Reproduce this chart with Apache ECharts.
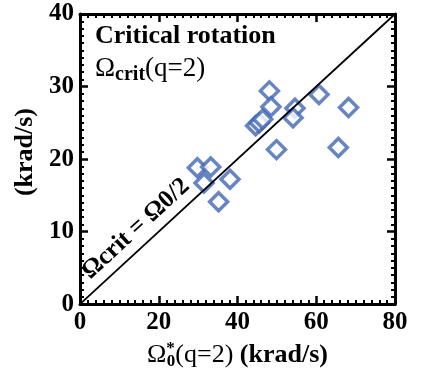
<!DOCTYPE html>
<html>
<head>
<meta charset="utf-8">
<script src="https://cdn.jsdelivr.net/npm/echarts@6/dist/echarts.min.js"></script>
<style>
  html, body { margin: 0; padding: 0; background: #fff; }
  #chart { width: 431px; height: 375px; }
</style>
</head>
<body>
<div id="chart"></div>
<script>
/* 数据 */
const omega0 = [48.1, 60.7, 68.2, 48.5, 54.6, 54.1, 44.6, 45.5, 46.4, 49.9, 65.6, 29.8, 33.2, 31.5, 38.1, 35.2];
const omegaCrit = [29.4, 28.9, 27.1, 27.2, 27.0, 25.7, 24.6, 25.0, 25.5, 21.3, 21.6, 18.8, 18.9, 16.7, 17.2, 14.1];
const xTicks = [0, 20, 40, 60, 80];
const yTicks = [0, 10, 20, 30, 40];
const lineStart = [0, 0];
const lineEnd = [80, 40];

const serif = 'Liberation Serif';
const points = omega0.map((v, i) => [v, omegaCrit[i]]);

/* 坐标轴公共样式 */
function frameAxis (show, interval, max) {
    return {
        type: 'value',
        min: 0,
        max: max,
        interval: interval,
        axisLine: { show: true, onZero: false, lineStyle: { color: '#000', width: 3 } },
        axisTick: { show: true, inside: true, length: 8, lineStyle: { color: '#000', width: 2.5 } },
        minorTick: { show: true, splitNumber: 10, length: 4, lineStyle: { color: '#000', width: 2 } },
        splitLine: { show: false },
        axisLabel: {
            show: show,
            fontFamily: serif,
            fontWeight: 'bold',
            fontSize: 25,
            color: '#000',
            margin: 6
        }
    };
}

const chart = echarts.init(document.getElementById('chart'));
const option = {
    backgroundColor: '#fff',
    animation: false,
    grid: { left: 80, right: 36, top: 14, bottom: 65 },
    xAxis: [
        Object.assign(frameAxis(true, 20, 80), {
            position: 'bottom',
            name: '{o|Ω}{sup|*}{sub|0}{o|(q=2) }{b|(krad/s)}',
            nameLocation: 'middle',
            nameGap: 32,
            nameTextStyle: {
                rich: {
                    o: { fontFamily: serif, fontSize: 26, color: '#000' },
                    b: { fontFamily: serif, fontSize: 26, fontWeight: 'bold', color: '#000' },
                    sup: { fontFamily: serif, fontSize: 17, fontWeight: 'bold', color: '#000', padding: [0, 0, 14, 0] },
                    sub: { fontFamily: serif, fontSize: 17, fontWeight: 'bold', color: '#000', padding: [12, 0, 0, -8] }
                }
            }
        }),
        Object.assign(frameAxis(false, 20, 80), { position: 'top' })
    ],
    yAxis: [
        Object.assign(frameAxis(true, 10, 40), {
            position: 'left',
            name: '(krad/s)',
            nameLocation: 'middle',
            nameGap: 34,
            nameTextStyle: { fontFamily: serif, fontSize: 26, fontWeight: 'bold', color: '#000', padding: [0, 0, 0, 14] }
        }),
        Object.assign(frameAxis(false, 10, 40), { position: 'right' })
    ],
    graphic: [
        {
            type: 'text',
            left: 95,
            top: 23,
            style: { text: 'Critical rotation', fontFamily: serif, fontWeight: 'bold', fontSize: 26, fill: '#000' }
        },
        {
            type: 'text',
            left: 95,
            top: 55,
            style: {
                text: '{o|Ω}{s|crit}{o|(q=2)}',
                rich: {
                    o: { fontFamily: serif, fontSize: 27, fill: '#000' },
                    s: { fontFamily: serif, fontSize: 20, fontWeight: 'bold', fill: '#000', padding: [12, 0, 0, 0] }
                }
            }
        }
    ],
    series: [
        {
            type: 'line',
            data: [],
            markLine: {
                silent: true,
                symbol: 'none',
                lineStyle: { color: '#000', width: 1.8, type: 'solid' },
                label: {
                    show: true,
                    position: 'insideStartTop',
                    distance: [24, 5],
                    formatter: 'Ωcrit = Ω0/2',
                    fontFamily: serif,
                    fontSize: 25,
                    fontWeight: 'bold',
                    color: '#000'
                },
                data: [[{ coord: lineStart }, { coord: lineEnd }]]
            }
        },
        {
            type: 'scatter',
            data: points,
            symbol: 'diamond',
            symbolSize: 18,
            itemStyle: { color: '#fff', borderColor: '#4166b4', borderWidth: 3.5 }
        }
    ]
};
chart.setOption(option);
</script>
</body>
</html>
